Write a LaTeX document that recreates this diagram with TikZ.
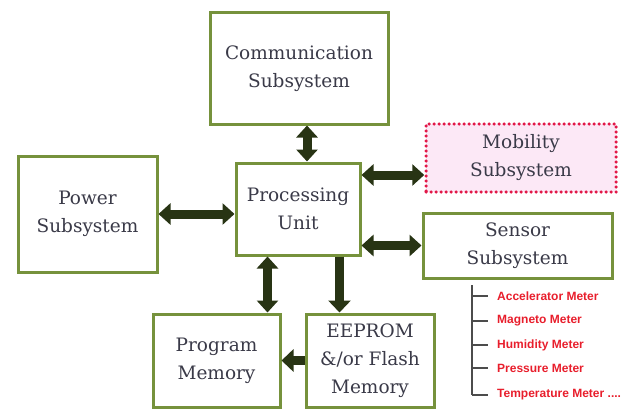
\documentclass[tikz,border=0pt]{standalone}
\usepackage{fontspec}
\setmainfont{DejaVu Serif}
\newfontfamily\listfont{Liberation Sans}
\usepackage{xcolor}
\usepackage{tikz}
\usetikzlibrary{arrows.meta, positioning}

\definecolor{khung}{RGB}{118,146,60}
\definecolor{muiten}{RGB}{40,52,20}
\definecolor{chu}{RGB}{58,58,72}
\definecolor{viendo}{RGB}{226,24,72}
\definecolor{hong}{RGB}{252,232,246}
\definecolor{dochu}{RGB}{232,30,44}

\begin{document}
\begin{tikzpicture}[x=1pt, y=-1pt,
    khoi/.style={draw=khung, line width=3pt, fill=white, text=chu, align=center,
        font=\fontsize{18.5}{28}\selectfont, inner sep=0pt},
    haichieu/.style={muiten, line width=9pt,
        {Triangle[length=12pt,width=21pt]}-{Triangle[length=12pt,width=21pt]}},
    motchieu/.style={muiten, line width=9pt, -{Triangle[length=12pt,width=22pt]}},
    cambien/.style={anchor=west, text=dochu, inner sep=0pt,
        font=\listfont\bfseries\fontsize{12}{14}\selectfont},
    nhanh/.style={gray!60!black, line width=1.3pt}]

    \useasboundingbox (0,0) rectangle (631,409);

    % Vẽ các khối
    \node[khoi, minimum width=178pt, minimum height=111pt] (comm) at (299,68.5) {Communication\\Subsystem};
    \node[khoi, minimum width=139pt, minimum height=116pt] (power) at (87.5,214) {Power\\Subsystem};
    \node[khoi, minimum width=124pt, minimum height=92pt] (proc) at (298,209) {Processing\\Unit};
    \node[khoi, draw=viendo, fill=hong, line width=3.5pt, dash pattern=on 0pt off 5pt, line cap=round,
        minimum width=190pt, minimum height=68pt] (mob) at (521,158) {Mobility\\Subsystem};
    \node[khoi, minimum width=189pt, minimum height=65pt] (sens) at (517.5,245.5) {Sensor\\Subsystem};
    \node[khoi, minimum width=127pt, minimum height=93pt] (prog) at (216.5,360.5) {Program\\Memory};
    \node[khoi, minimum width=128pt, minimum height=93pt] (eeprom) at (370,360.5) {EEPROM\\\&/or Flash\\Memory};

    % Vẽ các mũi tên
    \draw[haichieu] ([xshift=8pt]comm.south) -- ([xshift=8pt]comm.south |- proc.north);
    \draw[haichieu] (power.east) -- (power.east -| proc.west);
    \draw[haichieu] ([yshift=-17pt]mob.west -| proc.east) -- ([yshift=-17pt]mob.west);
    \draw[haichieu] (sens.west -| proc.east) -- (sens.west);
    \draw[haichieu] ([xshift=-14pt]prog.north east |- proc.south) -- ([xshift=-14pt]prog.north east);
    \draw[motchieu] ([xshift=35pt]eeprom.north west |- proc.south) -- ([xshift=35pt]eeprom.north west);
    \draw[motchieu] (eeprom.west) -- (prog.east);

    % Danh sách cảm biến
    \coordinate (goc) at (472,285);
    \foreach \ten/\y [count=\i] in {Accelerator Meter/296, Magneto Meter/321, Humidity Meter/345,
        Pressure Meter/368, {Temperature Meter ....}/395}
        \node[cambien] (cb\i) at (497,\y) {\ten};
    \draw[nhanh] (goc) -- (goc |- cb5.west);
    \foreach \i in {1,2,3,4,5}
        \draw[nhanh] (goc |- cb\i.west) -- ([xshift=-9pt]cb\i.west);

\end{tikzpicture}
\end{document}
